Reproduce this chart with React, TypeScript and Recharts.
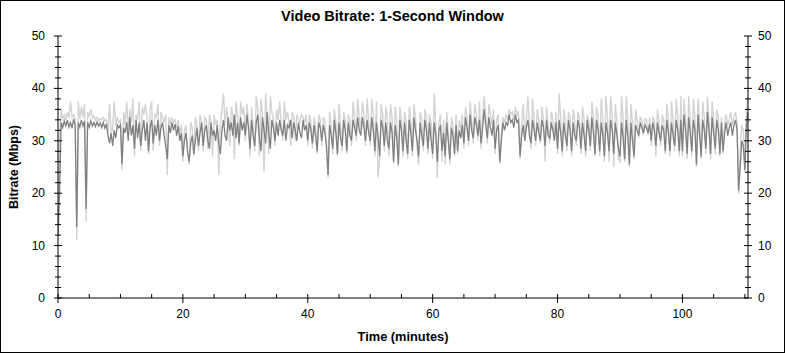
import { LineChart, Line, XAxis, YAxis } from "recharts";

// one sample every quarter minute
const STEP_MIN = 0.25;

// dark grey trace (video bitrate, Mbps), one row per 10 minutes
const DARK = [
  12, 20, 33.5, 32.5, 33.8, 32.8, 34, 32.6, 33.5, 32.4, 34.2, 33, 13.5, 33.5, 32.6, 34, 32.8, 33.8, 17, 33.5, 32.6, 33.8, 32.8, 33.5, 32.7, 33.6, 32.8, 33.4, 32.5, 33.5, 32.4, 33.2, 31, 29.5, 31.5, 29, 32, 30.5, 33, 32.5,
  33, 25.5, 32.5, 31.5, 33.5, 30, 34.5, 31, 33, 28.5, 34, 30.5, 33.5, 29, 32, 34, 30, 33.5, 28, 32.5, 34, 29.5, 33, 31, 34, 30, 32.5, 33.5, 31, 29, 26.5, 33, 31.5, 33.5, 32, 33.2, 31, 32.8, 30, 31.5,
  27, 30, 31.5, 28, 26, 29.5, 31, 27.5, 30, 32.5, 29, 31.5, 33.5, 29, 32, 33, 30, 28.5, 33.5, 31, 32, 30, 33, 29.5, 27.5, 32, 34, 31, 30, 34.5, 32, 33.5, 31, 35, 30.5, 33.5, 29.5, 34.5, 32, 33.5,
  31, 35, 32.5, 28.5, 34, 31, 29, 33.5, 35, 30.5, 28, 34.5, 32, 29.5, 35.5, 31.5, 28.5, 34, 32.5, 30, 33.5, 31, 34, 32, 31, 34, 30, 33, 32.5, 34, 30.5, 33.5, 32, 30, 33.5, 31.5, 30.5, 34, 32, 33,
  30, 33.5, 32, 29.5, 33, 31, 28, 33.5, 32.5, 30, 33, 31.5, 29, 23.5, 33, 31, 28.5, 34, 31.5, 27.5, 33.5, 30.5, 29, 34, 32, 28, 33.5, 31, 30, 34, 32.5, 31, 34.5, 32, 31, 34.5, 32.5, 30, 34, 31.5,
  30, 34.5, 32, 28, 33.5, 31, 27, 34, 32.5, 29, 33.5, 30, 28.5, 33.5, 31.5, 26, 33, 30.5, 25.5, 34, 32, 28, 33.5, 30, 27.5, 34, 31.5, 28, 34.5, 32, 30, 27, 33.5, 31, 29, 34, 32, 28.5, 33.5, 30,
  27.5, 33.5, 31, 26, 32, 33, 28, 31.5, 27, 33.5, 30, 26.5, 32.5, 31, 27.5, 33, 28, 32, 30.5, 33, 29.5, 34.5, 32.5, 30, 35, 32, 30.5, 34.5, 33, 31, 34, 29.5, 32.5, 36, 33, 30.5, 34.5, 32.5, 31, 34,
  28.5, 32, 33, 26, 30, 33.5, 32, 33.5, 33, 35, 33.5, 34, 32.5, 35, 33.5, 34, 27, 31, 33, 30, 32.5, 34, 31, 29.5, 34, 32, 30, 33.5, 31.5, 30, 34, 32.5, 29, 34, 31, 30.5, 33.5, 32, 30, 33.5,
  28.5, 34, 31.5, 28, 33.5, 31, 29, 34, 32, 28, 33.5, 31, 30, 34, 32.5, 28.5, 33.5, 31, 28, 34, 32, 29, 34.5, 31.5, 27.5, 34, 32, 28, 33.5, 31, 27, 33.5, 31.5, 28, 34, 32, 27.5, 33.5, 31, 28.5,
  27, 33.5, 30.5, 26.5, 34, 31, 25.5, 33.5, 30, 27, 33, 32, 31, 33.5, 32.5, 31.5, 33, 32.5, 31.5, 33.2, 30, 33.5, 32, 29, 33.5, 31.5, 30, 33, 32, 28, 34, 31.5, 28, 33.5, 31, 29, 34, 32, 28, 34,
  28, 35, 32, 27.5, 34.5, 31.5, 28, 34, 32, 25.5, 35, 31, 27, 34, 32, 28.5, 35.5, 32, 27.5, 34.5, 31.5, 28.5, 34, 32, 27.5, 33.5, 28, 31.5, 33.5, 31, 32.5, 33.5, 31, 33, 34, 32, 20.5, 25, 30, 29, 24.5, 33, 35.5,
];

// light grey trace (peaks behind the dark one)
const LIGHT = [
  11, 30, 36, 34.2, 35, 34, 35.5, 34.3, 37.5, 34.5, 35, 34.2, 11, 37.5, 34.2, 36.5, 34.5, 37, 14.5, 35.5, 34.5, 36, 34.3, 34.8, 34, 34.5, 33.8, 34.3, 34, 34.5, 33.8, 34, 31.5, 37, 31.8, 32, 37.5, 33, 34.5, 33.5,
  34, 24.5, 35.5, 33, 37.5, 32, 36, 33.5, 38, 27, 35, 34, 37.5, 28, 36.5, 35, 37, 34.5, 27.5, 36, 37.5, 28, 35, 34.5, 37, 29, 35.5, 34.5, 33.5, 35, 23.5, 34.5, 33, 34.5, 33.5, 34, 32.5, 34, 31.5, 33,
  26, 32, 33, 27.5, 25.5, 33.5, 32.5, 27, 34.5, 33, 28, 35, 33.5, 28, 34.5, 34, 28.5, 35, 33.5, 27, 35, 33, 34, 23.5, 33, 36, 39, 33, 36.5, 34, 29, 36.5, 35, 26.5, 37.5, 35, 29, 37.5, 35, 36.5,
  30, 37, 34, 27, 36.5, 33, 28, 38.5, 36, 27, 38, 35, 24, 39, 34.5, 27.5, 38.5, 35.5, 34, 29, 36, 34, 37.5, 33, 30, 37.5, 34, 35.5, 33.5, 29, 35.5, 34.5, 30, 35, 34, 33.5, 35, 34.5, 33.5, 35,
  29, 35, 33.5, 28.5, 34.5, 33, 27.5, 35, 34, 29, 34.5, 33.5, 28, 23, 35.5, 33, 27.5, 36, 33.5, 27, 37, 33, 28, 35.5, 34, 27.5, 35, 34, 29, 37.5, 34.5, 30, 38, 34.5, 32, 37.5, 35, 29, 38, 34,
  29, 38, 35, 27, 37.5, 23, 26.5, 37, 35, 28, 36.5, 34, 27, 37, 34.5, 25.5, 36.5, 33.5, 25, 36.5, 34, 27, 35.5, 33.5, 26.5, 36.5, 34, 27, 37, 34.5, 29, 25.5, 35.5, 34, 28, 36, 34.5, 27.5, 35, 33.5,
  26.5, 39, 33, 22.8, 33.5, 35, 26, 34, 25.5, 35.5, 32, 25.5, 34.5, 33, 27, 35, 27.5, 34, 32, 35, 28.5, 36.5, 34.5, 29, 37.5, 34, 29.5, 37, 35, 30, 37.5, 28.5, 35, 38.5, 35, 29.5, 37, 35, 33, 36,
  27.5, 34, 35, 25.5, 31, 34.5, 33.5, 35, 34, 36, 35, 35.5, 34, 36.5, 35, 35.5, 26.5, 33, 37, 31, 34, 38.5, 33, 28.5, 38, 34, 29, 36, 34, 29.5, 36.5, 34, 26, 36.5, 33, 29.5, 35.5, 34, 31, 35.5,
  27.5, 39, 34.5, 27, 36, 34, 28, 35.5, 34.5, 27, 36, 34, 29, 35.5, 34.5, 27.5, 36.5, 34, 27, 35, 34, 28, 37.5, 34.5, 27, 36.5, 34.5, 27, 38, 34, 26, 38.5, 34.5, 26, 38.5, 35, 25, 37, 34, 26.5,
  26, 38.5, 34, 26, 38.5, 34, 25, 37, 33.5, 26.5, 36, 34, 30.5, 34.5, 34, 31, 34.2, 34, 31, 34.5, 29, 34.5, 34, 27, 36, 33.5, 29, 35, 34, 27.5, 37, 34, 27, 37.5, 34, 28, 38, 34.5, 27, 38.5,
  27, 38, 34.5, 26.5, 38.5, 34, 27, 38, 34.5, 25, 38, 34, 26.5, 37.5, 34.5, 27.5, 38.5, 34.5, 26.5, 37.5, 34, 27.5, 36, 34.5, 27, 34.5, 27.5, 33.5, 35, 33, 34, 35.5, 33, 34.5, 35.5, 33.5, 20, 28, 33, 32, 24, 36, 38.5,
];

const X_TICKS = [0, 5, 10, 15, 20, 25, 30, 35, 40, 45, 50, 55, 60, 65, 70, 75, 80, 85, 90, 95, 100, 105, 110];
const Y_TICKS = [0, 2, 4, 6, 8, 10, 12, 14, 16, 18, 20, 22, 24, 26, 28, 30, 32, 34, 36, 38, 40, 42, 44, 46, 48, 50];

const FONT = '"Liberation Sans", Arial, sans-serif';

const data = DARK.map((d, i) => ({ t: i * STEP_MIN, dark: d, light: LIGHT[i] }));

function BottomTick({ x, y, payload }: any) {
  const major = payload.value % 20 === 0;
  return (
    <g>
      <line x1={x} x2={x} y1={y - 4} y2={major ? y + 5 : y} stroke="#000" />
      {major && (
        <text x={x} y={y + 20} textAnchor="middle" fontSize={12} fontFamily={FONT} fill="#000">
          {payload.value}
        </text>
      )}
    </g>
  );
}

function TopTick({ x, y, payload }: any) {
  const major = payload.value % 20 === 0;
  return <line x1={x} x2={x} y1={y} y2={major ? y + 5 : y + 4} stroke="#000" />;
}

function LeftTick({ x, y, payload }: any) {
  const major = payload.value % 10 === 0;
  return (
    <g>
      <line x1={major ? x - 4 : x - 3} x2={major ? x + 4 : x + 3} y1={y} y2={y} stroke="#000" />
      {major && (
        <text x={x - 13} y={y + 4} textAnchor="end" fontSize={12} fontFamily={FONT} fill="#000">
          {payload.value}
        </text>
      )}
    </g>
  );
}

function RightTick({ x, y, payload }: any) {
  const major = payload.value % 10 === 0;
  return (
    <g>
      <line x1={major ? x - 4 : x - 3} x2={major ? x + 4 : x + 3} y1={y} y2={y} stroke="#000" />
      {major && (
        <text x={x + 10} y={y + 4} textAnchor="start" fontSize={12} fontFamily={FONT} fill="#000">
          {payload.value}
        </text>
      )}
    </g>
  );
}

export default function App() {
  return (
    <div
      style={{
        position: "relative",
        width: 785,
        height: 353,
        boxShadow: "inset 0 0 0 1px #000",
        background: "#fff",
        fontFamily: FONT,
      }}
    >
      <style>{`body{margin:0}`}</style>
      <div
        style={{
          position: "absolute",
          top: 8,
          left: 0,
          width: 785,
          textAlign: "center",
          fontSize: 14.5,
          fontWeight: "bold",
          color: "#000",
        }}
      >
        Video Bitrate: 1-Second Window
      </div>
      <LineChart width={785} height={353} data={data} margin={{ top: 36, right: 0, bottom: 0, left: 0 }}>
        <XAxis
          xAxisId="bottom"
          dataKey="t"
          type="number"
          domain={[0, 110.5]}
          ticks={X_TICKS}
          interval={0}
          allowDataOverflow
          height={55}
          tickSize={0}
          tickMargin={0}
          tickLine={false}
          tick={<BottomTick />}
          axisLine={{ stroke: "#000" }}
          label={{
            value: "Time (minutes)",
            position: "insideBottom",
            offset: 12,
            style: { fontSize: 12.8, fontWeight: "bold", fill: "#000", fontFamily: FONT },
          }}
        />
        <XAxis
          xAxisId="top"
          orientation="top"
          dataKey="t"
          type="number"
          domain={[0, 110.5]}
          ticks={X_TICKS}
          interval={0}
          allowDataOverflow
          height={0}
          tickSize={0}
          tickMargin={0}
          tickLine={false}
          tick={<TopTick />}
          axisLine={{ stroke: "#000" }}
        />
        <YAxis
          yAxisId="left"
          domain={[0, 50]}
          ticks={Y_TICKS}
          interval={0}
          width={58}
          tickSize={0}
          tickMargin={0}
          tickLine={false}
          tick={<LeftTick />}
          axisLine={{ stroke: "#000" }}
          label={{
            position: "insideLeft",
            content: () => (
              <text
                x={18}
                y={167}
                transform="rotate(-90 18 167)"
                textAnchor="middle"
                fontSize={12.5}
                fontWeight="bold"
                fontFamily={FONT}
                fill="#000"
              >
                Bitrate (Mbps)
              </text>
            ),
          }}
        />
        <YAxis
          yAxisId="right"
          orientation="right"
          domain={[0, 50]}
          ticks={Y_TICKS}
          interval={0}
          width={37}
          tickSize={0}
          tickMargin={0}
          tickLine={false}
          tick={<RightTick />}
          axisLine={{ stroke: "#000" }}
        />
        <Line
          xAxisId="bottom"
          yAxisId="left"
          type="linear"
          dataKey="light"
          stroke="#d3d3d3"
          strokeWidth={1.4}
          dot={false}
          activeDot={false}
          isAnimationActive={false}
        />
        <Line
          xAxisId="bottom"
          yAxisId="left"
          type="linear"
          dataKey="dark"
          stroke="#808080"
          strokeWidth={1.3}
          dot={false}
          activeDot={false}
          isAnimationActive={false}
        />
        {/* invisible copy so the top and right axes get a scale */}
        <Line
          xAxisId="top"
          yAxisId="right"
          type="linear"
          dataKey="dark"
          stroke="none"
          dot={false}
          activeDot={false}
          legendType="none"
          isAnimationActive={false}
        />
      </LineChart>
    </div>
  );
}
